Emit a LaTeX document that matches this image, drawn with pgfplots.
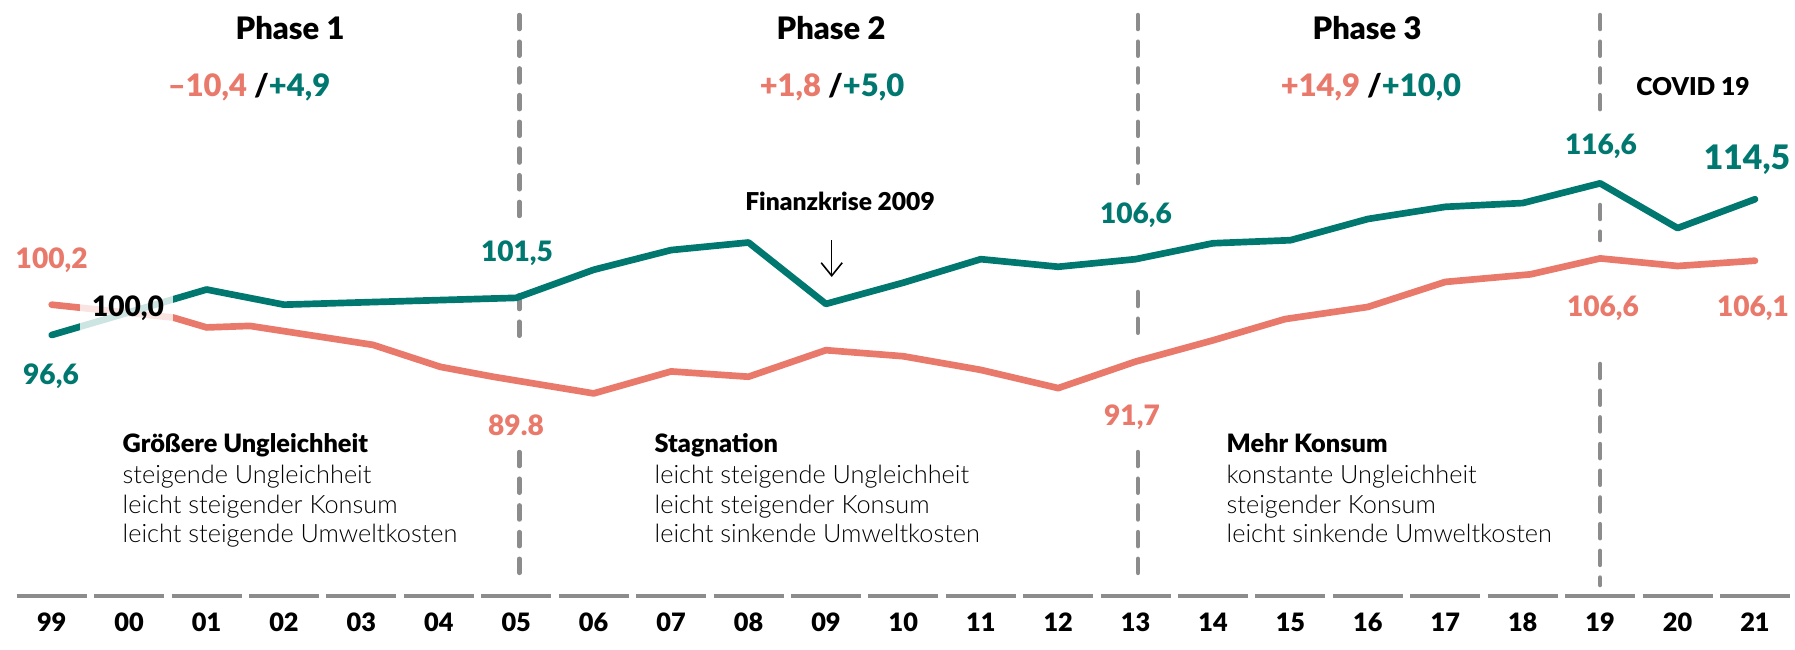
\documentclass[border=0pt]{standalone}
\usepackage{fontspec}
\IfFontExistsTF{Lato Black}{\setmainfont{Lato}[BoldFont={Lato Black}]}{\setmainfont{Lato}}
\IfFontExistsTF{Lato Light}{\newfontfamily\bodyfont{Lato Light}}{\newfontfamily\bodyfont{Lato}}
\usepackage{pgfplots}
\pgfplotsset{compat=1.18}
\usetikzlibrary{arrows.meta}
\definecolor{cteal}{RGB}{0,120,112}
\definecolor{cred}{RGB}{233,121,106}
\definecolor{cdash}{RGB}{140,140,140}
\newcommand\fs[1]{\fontsize{#1}{#1}\selectfont}

\begin{document}
\begin{tikzpicture}
\useasboundingbox (0,0) rectangle (17.95,6.49);
\begin{axis}[
    at={(0,0)}, anchor=south west,
    width=17.95cm, height=6.49cm, scale only axis,
    xmin=-0.668, xmax=22.517, ymin=55.2, ymax=140.77,
    clip=false,
    axis line style={draw=none},
    major tick length=0pt,
    ytick=\empty,
    xtick={0,...,22},
    xticklabels={99,00,01,02,03,04,05,06,07,08,09,10,11,12,13,14,15,16,17,18,19,20,21},
    xticklabel style={anchor=base, inner sep=0pt, yshift=0.18cm, font=\fs{7.2}\bfseries},
]
% Phase separators
\draw[cdash, line width=1.3pt, line cap=round, dash pattern=on 0.14cm off 0.127cm]
    (axis cs:6.04,138.79) -- (axis cs:6.04,112.02)
    (axis cs:6.04,101.87) -- (axis cs:6.04,95.28)
    (axis cs:6.04,81.17) -- (axis cs:6.04,63.64)
    (axis cs:14.03,138.79) -- (axis cs:14.03,116.64)
    (axis cs:14.03,102.27) -- (axis cs:14.03,96.20)
    (axis cs:14.03,81.17) -- (axis cs:14.03,63.64)
    (axis cs:20,138.79) -- (axis cs:20,125.6)
    (axis cs:20,113.74) -- (axis cs:20,109.12)
    (axis cs:20,92.78) -- (axis cs:20,63.64);
% baseline
\draw[cdash, line width=0.9pt, dash pattern=on 0.70cm off 0.0742cm]
    (axis cs:-0.452,62.19) -- (axis cs:22.452,62.19);

% Ungleichheit (rot)
\addplot[cred, line width=1.9pt, line cap=round, line join=round] coordinates {
  (0,100.6) (1.57,98.9) (2,97.6) (2.56,97.8) (4.15,95.3) (5.02,92.4) (5.7,91.1)
  (7,88.9) (8,91.8) (9,91.1) (10,94.6) (11,93.8) (12,92.0) (13,89.6) (14,93.1)
  (15,95.9) (15.93,98.7) (17,100.3) (18,103.6) (19.1,104.6) (20,106.7) (21,105.7) (22,106.4)};
% Konsum (petrol)
\addplot[cteal, line width=1.9pt, line cap=round, line join=round] coordinates {
  (0,96.6) (1,99.6) (2,102.6) (3,100.6) (4,100.9) (5,101.2) (6,101.5) (7,105.2)
  (8,107.8) (9,108.8) (10,100.7) (11,103.5) (12,106.6) (13,105.6) (14,106.6)
  (15,108.7) (16,109.1) (17,111.9) (18,113.5) (19,114.0) (20,116.6) (21,110.7) (22,114.5)};
\end{axis}

% Kopfzeilen
\node[anchor=base, inner sep=0pt, font=\fs{8.8}\bfseries] at (2.90,6.097) {Phase 1};
\node[anchor=base, inner sep=0pt, font=\fs{8.8}\bfseries] at (8.31,6.097) {Phase 2};
\node[anchor=base, inner sep=0pt, font=\fs{8.8}\bfseries] at (13.67,6.097) {Phase 3};
\node[anchor=base, inner sep=0pt, font=\fs{8.8}\bfseries] at (2.49,5.523)
    {\textcolor{cred}{–10,4} /\textcolor{cteal}{+4,9}};
\node[anchor=base, inner sep=0pt, font=\fs{8.8}\bfseries] at (8.32,5.523)
    {\textcolor{cred}{+1,8} /\textcolor{cteal}{+5,0}};
\node[anchor=base, inner sep=0pt, font=\fs{8.8}\bfseries] at (13.71,5.523)
    {\textcolor{cred}{+14,9} /\textcolor{cteal}{+10,0}};
\node[anchor=base, inner sep=0pt, font=\fs{7}\bfseries] at (16.93,5.53) {COVID 19};

% Werte
\fill[white, opacity=0.8] (0.80,3.19) rectangle (1.73,3.56);
\begin{scope}[every node/.style={anchor=base, inner sep=0pt, font=\fs{8}\bfseries}]
\node[text=cred]  at (0.517,3.807) {100,2};
\node[text=cteal] at (0.51,2.64)   {96,6};
\node[text=black] at (1.28,3.323)  {100,0};
\node[text=cteal] at (5.17,3.873)  {101,5};
\node[text=cred]  at (5.16,2.14)   {89.8};
\node[text=cteal] at (11.36,4.26)  {106,6};
\node[text=cred]  at (11.32,2.24)  {91,7};
\node[text=cteal] at (16.01,4.94)  {116,6};
\node[text=cteal, font=\fs{9.6}\bfseries] at (17.47,4.79) {114,5};
\node[text=cred]  at (16.03,3.323) {106,6};
\node[text=cred]  at (17.53,3.323) {106,1};
\end{scope}

\node[anchor=base, inner sep=0pt, font=\fs{7}\bfseries] at (8.40,4.39) {Finanzkrise 2009};
\draw[line width=0.45pt, -{Straight Barb[length=1.3mm, width=2.1mm]}] (8.317,4.09) -- (8.317,3.72);

% Beschreibungen
\begin{scope}[every node/.style={anchor=base west, inner sep=0pt, font=\fs{7.2}\bodyfont}]
\node[font=\fs{7.2}\bfseries] at (1.22,1.97) {Größere Ungleichheit};
\node at (1.22,1.66) {steigende Ungleichheit};
\node at (1.22,1.36) {leicht steigender Konsum};
\node at (1.22,1.07) {leicht steigende Umweltkosten};
\node[font=\fs{7.2}\bfseries] at (6.54,1.97) {Stagnation};
\node at (6.54,1.66) {leicht steigende Ungleichheit};
\node at (6.54,1.36) {leicht steigender Konsum};
\node at (6.54,1.07) {leicht sinkende Umweltkosten};
\node[font=\fs{7.2}\bfseries] at (12.26,1.97) {Mehr Konsum};
\node at (12.26,1.66) {konstante Ungleichheit};
\node at (12.26,1.36) {steigender Konsum};
\node at (12.26,1.07) {leicht sinkende Umweltkosten};
\end{scope}
\end{tikzpicture}
\end{document}
